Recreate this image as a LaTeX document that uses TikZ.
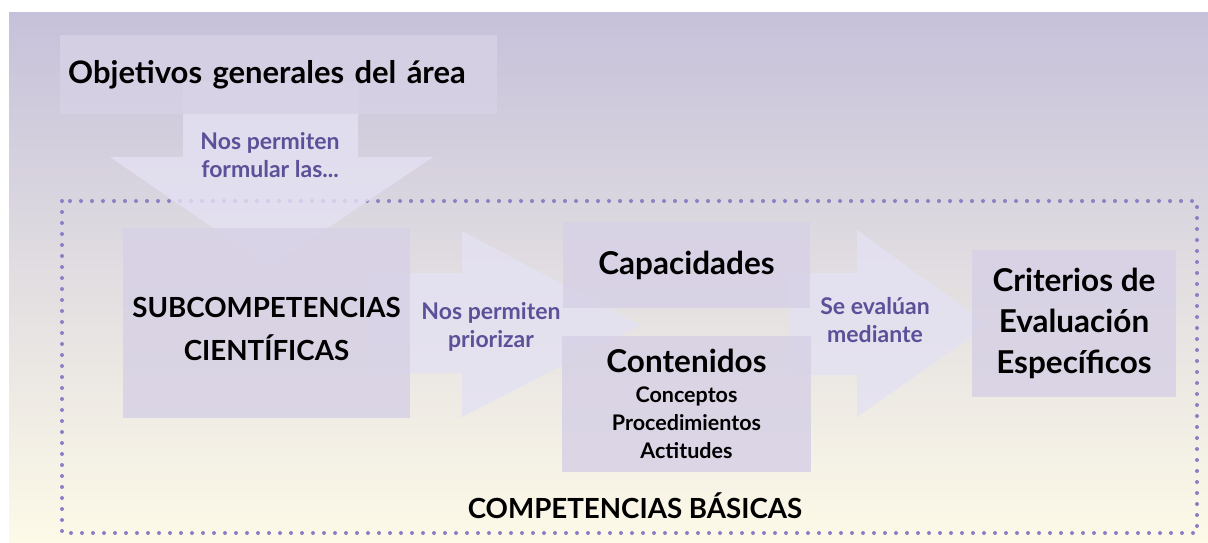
\documentclass[tikz,border=0pt]{standalone}
\usepackage{fontspec}
\setmainfont{Lato}
\usetikzlibrary{positioning}
\definecolor{BgTop}{RGB}{198,193,218}
\definecolor{BgBottom}{RGB}{253,250,232}
\definecolor{BoxFill}{RGB}{215,209,229}
\definecolor{ArrowFill}{RGB}{228,225,243}
\definecolor{LabelPurple}{RGB}{92,80,152}
\definecolor{DotPurple}{RGB}{140,128,196}
\newcommand{\fsTitle}{\fontsize{31}{38}\selectfont}
\newcommand{\fsBig}{\fontsize{31.5}{41}\selectfont}
\newcommand{\fsCaps}{\fontsize{27.7}{43}\selectfont}
\newcommand{\fsSmall}{\fontsize{21.5}{28}\selectfont}
\newcommand{\fsLbl}{\fontsize{23}{28}\selectfont}
\tikzset{
  box/.style={fill=BoxFill,fill opacity=0.85,text opacity=1,inner sep=0pt,align=center,font=\bfseries},
  blockarrow/.style={fill=ArrowFill,fill opacity=0.8},
  arrowtext/.style={text=LabelPurple,align=center,font=\fsLbl\bfseries}
}

\begin{document}
\begin{tikzpicture}[x=1pt,y=-1pt]
		\useasboundingbox (0,0) rectangle (1208,543);
		% background
		\shade[top color=BgTop,bottom color=BgBottom] (9,13) rectangle (1208,543);
		% dotted frame
		\draw[DotPurple,line width=4,line cap=round,dash pattern=on 0pt off 11pt] (62,201) rectangle (1197,533);

		% block arrows
		\fill[blockarrow] (183,82) -- (358,82) -- (358,157) -- (433,157) -- (270,267) -- (110,157) -- (183,157) -- cycle;
		\fill[blockarrow] (367,273) -- (462,273) -- (462,231) -- (640,325) -- (462,417) -- (462,373) -- (367,373) -- cycle;
		\fill[blockarrow] (790,273) -- (857,273) -- (857,230) -- (988,325) -- (857,417) -- (857,375) -- (790,375) -- cycle;

		% boxes
		\node[box,anchor=north west,align=left,inner xsep=8,text width=421,minimum height=79,font=\fsTitle\bfseries] (objetivos) at (60,35) {Objetivos generales del área};
		\node[box,minimum width=287,minimum height=190,font=\fsCaps\bfseries] (subcomp) at (266.5,323) {\rule{0pt}{32pt}SUBCOMPETENCIAS\\CIENTÍFICAS};
		\node[box,minimum width=247,minimum height=86,font=\fsBig\bfseries] (capacidades) at (686.5,265) {Capacidades};
		\node[box,minimum width=249,minimum height=136,font=\fsSmall\bfseries] (contenidos) at (686.5,404) {{\fsBig Contenidos}\\[2pt]Conceptos\\Procedimientos\\Actitudes};
		\node[box,minimum width=204,minimum height=147,font=\fsBig\bfseries] (criterios) at (1074,323.5) {Criterios de\\Evaluación\\Específicos};

		% arrow texts
		\node[arrowtext] (formular) at (270,155) {Nos permiten\\formular las...};
		\node[arrowtext] (priorizar) at (491,327) {Nos permiten\\priorizar};
		\node[arrowtext] (evaluan) at (875,320) {Se evalúan\\mediante};
		\node[font=\fsCaps\bfseries] (basicas) at (635,506) {COMPETENCIAS BÁSICAS};
	\end{tikzpicture}
\end{document}
